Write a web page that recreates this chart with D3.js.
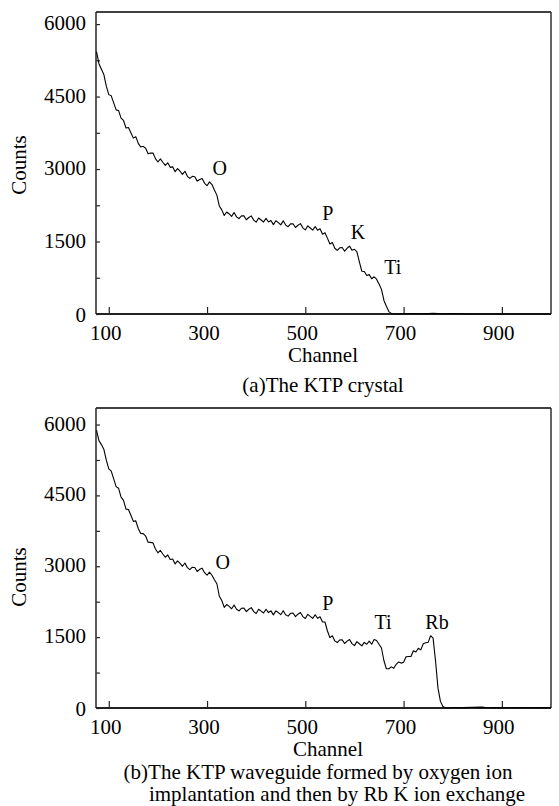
<!DOCTYPE html>
<html>
<head>
<meta charset="utf-8">
<script src="https://cdn.jsdelivr.net/npm/d3@7"></script>
<style>
  html, body { margin: 0; padding: 0; background: #fff; }
  svg { display: block; }
</style>
</head>
<body>
<script>
// ---------- DATA ----------
const xTicks = [100, 300, 500, 700, 900];
const yTicks = [0, 1500, 3000, 4500, 6000];
const yMinorTicks = [750, 2250, 3750, 5250];

// (a) KTP crystal
const channelsA = [75,80,85,90,95,100,105,110,115,120,125,130,135,140,145,150,155,160,165,170,175,180,185,190,195,200,205,210,215,220,225,230,235,240,245,250,255,260,265,270,275,280,285,290,295,300,305,310,315,320,325,330,335,340,345,350,355,360,365,370,375,380,385,390,395,400,405,410,415,420,425,430,435,440,445,450,455,460,465,470,475,480,485,490,495,500,505,510,515,520,525,530,535,540,545,550,555,560,565,570,575,580,585,590,595,600,605,610,615,620,625,630,635,640,645,650,655,660,665,670,675,680,685,690,700,720,740,760,780,800,820,830,1000];
const countsA = [5430,5180,5065,4955,4715,4540,4515,4370,4225,4210,4055,4005,3850,3860,3750,3640,3670,3530,3455,3470,3430,3315,3330,3330,3215,3145,3210,3140,3075,3130,3035,3045,2945,3010,2955,2890,2955,2850,2805,2850,2840,2750,2785,2805,2705,2655,2735,2680,2565,2460,2235,2155,2040,2110,2070,2020,2100,2010,1975,2030,2030,1950,1997,2030,1943,1900,1987,1945,1903,1980,1905,1935,1850,1930,1892,1845,1928,1840,1807,1865,1868,1790,1837,1870,1783,1740,1825,1780,1735,1810,1735,1765,1650,1680,1570,1450,1480,1360,1315,1370,1375,1300,1360,1405,1320,1340,1285,1080,885,880,795,815,730,770,720,620,510,280,160,50,12,4,0,0,6,10,4,12,6,9,4,0,0];
const peaksA = [
  {name: "O",  channel: 326, count: 3020},
  {name: "P",  channel: 546, count: 2090},
  {name: "K",  channel: 607, count: 1697},
  {name: "Ti", channel: 678, count: 972}
];

// (b) KTP waveguide
const channelsB = [75,80,85,90,95,100,105,110,115,120,125,130,135,140,145,150,155,160,165,170,175,180,185,190,195,200,205,210,215,220,225,230,235,240,245,250,255,260,265,270,275,280,285,290,295,300,305,310,315,320,325,330,335,340,345,350,355,360,365,370,375,380,385,390,395,400,405,410,415,420,425,430,435,440,445,450,455,460,465,470,475,480,485,490,495,500,505,510,515,520,525,530,535,540,545,550,555,560,565,570,575,580,585,590,595,600,605,610,615,620,625,630,635,640,645,650,655,660,665,670,675,680,685,690,695,700,705,710,715,720,725,730,735,740,745,750,755,760,765,770,775,780,785,790,800,820,840,860,870,890,910,930,950,970,990,1000];
const countsB = [5880,5660,5575,5475,5245,5060,5015,4850,4685,4650,4465,4395,4210,4200,4080,3950,3960,3800,3695,3690,3640,3510,3505,3495,3365,3285,3335,3260,3190,3240,3145,3155,3050,3115,3060,3000,3070,2970,2930,2980,2975,2890,2935,2960,2865,2810,2875,2810,2715,2630,2365,2275,2130,2190,2150,2100,2180,2090,2055,2110,2115,2040,2090,2125,2040,2000,2090,2050,2010,2090,2020,2055,1972,2055,2020,1975,2060,1975,1945,2005,2010,1935,1985,2020,1935,1895,1983,1940,1897,1975,1900,1930,1820,1820,1630,1490,1530,1420,1385,1440,1442,1365,1415,1450,1363,1320,1405,1360,1315,1390,1350,1415,1350,1450,1430,1350,1270,1000,830,830,870,840,925,975,950,970,1085,1090,1090,1210,1185,1265,1230,1360,1380,1390,1530,1480,1000,420,140,30,5,0,4,8,14,18,6,10,4,12,6,10,8,4];
const peaksB = [
  {name: "O",  channel: 332, count: 3090},
  {name: "P",  channel: 546, count: 2222},
  {name: "Ti", channel: 658, count: 1820},
  {name: "Rb", channel: 768, count: 1820}
];

// ---------- DRAW ----------
const W = 559, H = 806;
const FONT = "'Liberation Serif', 'Times New Roman', Times, 'DejaVu Serif', serif";
const svg = d3.select("body").append("svg").attr("width", W).attr("height", H)
  .attr("font-family", FONT);

function txt(g) {
  return g.append("text").attr("font-family", FONT).attr("fill", "#000")
    .attr("dominant-baseline", "central");
}

function panel(cfg) {
  const x = d3.scaleLinear().domain([74, 1000]).range([96, 551]);
  const y = d3.scaleLinear().domain([0, cfg.yMax]).range([cfg.bottom, cfg.top]);
  const g = svg.append("g");

  // frame top & right
  g.append("line").attr("x1", 96).attr("x2", 551).attr("y1", cfg.top).attr("y2", cfg.top)
    .attr("stroke", "#000").attr("stroke-width", 1.6);
  g.append("line").attr("x1", 551).attr("x2", 551).attr("y1", cfg.top).attr("y2", cfg.bottom)
    .attr("stroke", "#222").attr("stroke-width", 1.4);

  // y axis ticks
  [yTicks, yMinorTicks].forEach(vals => {
    const ya = g.append("g").attr("transform", `translate(96,0)`)
      .call(d3.axisRight(y).tickValues(vals).tickSize(4).tickFormat(""));
    ya.select(".domain").remove();
    ya.selectAll(".tick line").attr("stroke", "#222").attr("stroke-width", 1.2);
  });
  yTicks.forEach(d => {
    txt(g).attr("x", 86).attr("y", y(d) + (d === 0 ? 1 : -1))
      .attr("text-anchor", "end").attr("font-size", 21).text(d);
  });
  g.append("line").attr("x1", 96).attr("x2", 96).attr("y1", cfg.top).attr("y2", cfg.bottom)
    .attr("stroke", "#333").attr("stroke-width", 1.6);

  // x axis
  const xa = g.append("g").attr("transform", `translate(0,${cfg.bottom})`)
    .call(d3.axisTop(x).tickValues(xTicks).tickSize(7).tickFormat(""));
  xa.select(".domain").remove();
  xa.selectAll(".tick line").attr("stroke", "#222").attr("stroke-width", 1.2);
  xTicks.forEach(d => {
    txt(g).attr("x", x(d) - 3).attr("y", cfg.bottom + 19)
      .attr("text-anchor", "middle").attr("font-size", 21).text(d);
  });
  g.append("line").attr("x1", 96).attr("x2", 551).attr("y1", cfg.bottom).attr("y2", cfg.bottom)
    .attr("stroke", "#222").attr("stroke-width", 1.8);

  // curve
  const pts = cfg.channels.map((c, i) => [c, cfg.counts[i]]);
  g.append("path").datum(pts)
    .attr("d", d3.line().x(d => x(d[0])).y(d => y(d[1])))
    .attr("fill", "none").attr("stroke", "#000").attr("stroke-width", 1.1)
    .attr("stroke-linejoin", "round");

  // peak labels
  cfg.peaks.forEach(d => {
    txt(g).attr("x", x(d.channel)).attr("y", y(d.count))
      .attr("text-anchor", "middle").attr("font-size", 20).text(d.name);
  });

  // axis titles
  txt(g).attr("transform", `translate(19,${cfg.countsY}) rotate(-90)`)
    .attr("text-anchor", "middle").attr("font-size", 21).text("Counts");
  txt(g).attr("x", cfg.channelX).attr("y", cfg.channelY)
    .attr("text-anchor", "middle").attr("font-size", 21).text("Channel");
  cfg.caption.forEach(c => {
    txt(g).attr("x", c.x).attr("y", c.y)
      .attr("text-anchor", "middle").attr("font-size", 21).text(c.t);
  });
}

panel({
  top: 12, bottom: 314, yMax: 6250,
  channels: channelsA, counts: countsA, peaks: peaksA,
  countsY: 165, channelX: 323, channelY: 355,
  caption: [{t: "(a)The KTP crystal", x: 323, y: 385}]
});
panel({
  top: 408, bottom: 708, yMax: 6350,
  channels: channelsB, counts: countsB, peaks: peaksB,
  countsY: 577, channelX: 328, channelY: 749,
  caption: [
    {t: "(b)The KTP waveguide formed by oxygen ion", x: 318, y: 772},
    {t: "implantation and then by Rb K ion exchange", x: 337, y: 794}
  ]
});
</script>
</body>
</html>
